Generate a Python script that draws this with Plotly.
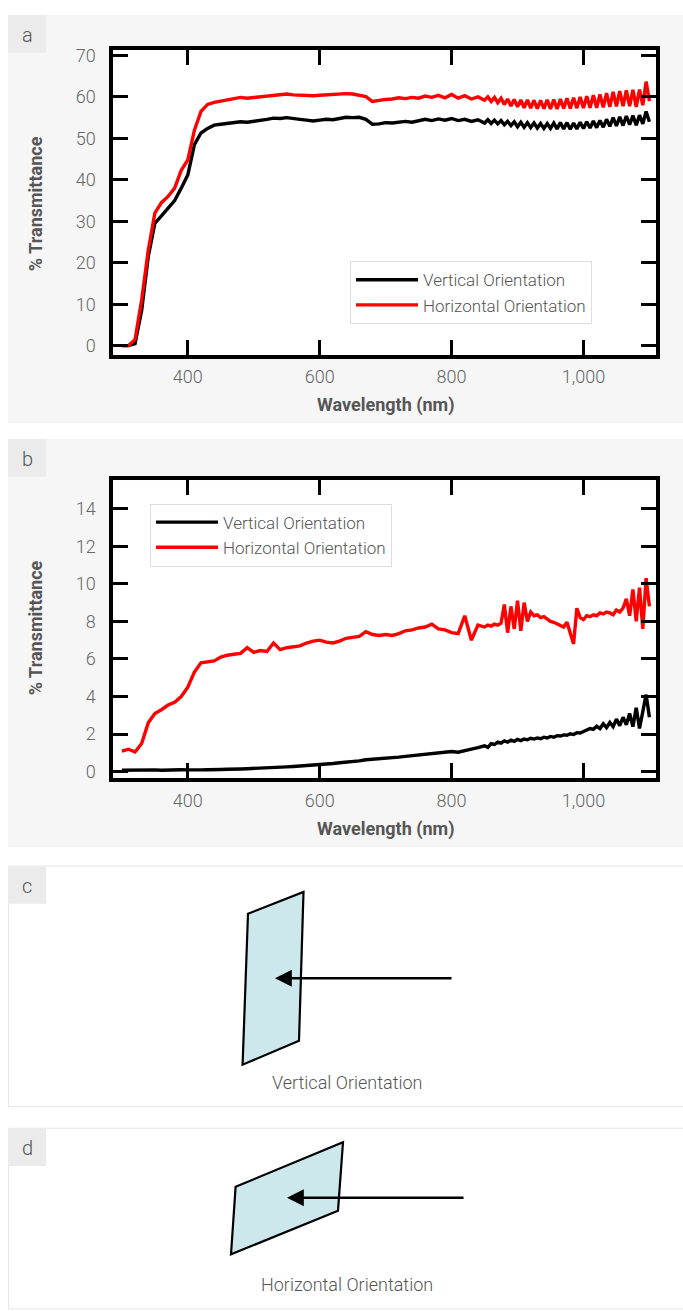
import plotly.graph_objects as go

W, H = 683, 1311

# ---------------- data ----------------
wavelength = list(range(300, 850, 10)) + list(range(850, 1101, 5))

vertical_a = [
    0, 0, 0.5, 8.5, 21.5, 29.5, 31.3, 33.0, 35.0, 38.0,
    41.2, 48.5, 51.3, 52.4, 53.2, 53.4, 53.6, 54.0, 54.0, 53.9,
    54.1, 54.4, 54.6, 54.9, 54.8, 55.0, 54.7, 54.6, 54.4, 54.2,
    54.4, 54.6, 54.5, 54.8, 55.1, 55.0, 55.1, 54.6, 53.4, 53.5,
    53.8, 53.7, 54.0, 54.1, 53.9, 54.3, 54.6, 54.3, 54.7, 54.4,
    54.8, 54.3, 54.6, 54.1, 54.5,
    53.7, 54.5, 53.6, 54.4, 53.5, 54.3, 53.3, 54.1, 53.1, 54.0,
    52.8, 53.9, 52.7, 53.8, 52.6, 53.7, 52.5, 53.6, 52.4, 53.6,
    52.4, 53.7, 52.3, 53.8, 52.3, 53.8, 52.2, 53.7, 52.3, 53.9,
    52.4, 54.0, 52.5, 54.2, 52.6, 54.3, 52.7, 54.6, 52.9, 55.0,
    53.0, 55.2, 53.1, 55.4, 53.3, 55.5, 53.2, 55.6, 53.5, 56.5,
    54.0,
]

horizontal_a = [
    0, 0, 1.5, 11.0, 23.0, 32.0, 34.5, 36.0, 38.0, 42.3,
    44.8, 52.0, 56.5, 58.2, 58.7, 59.0, 59.4, 59.8, 59.9, 59.7,
    59.9, 60.1, 60.2, 60.4, 60.6, 60.7, 60.5, 60.4, 60.5, 60.3,
    60.4, 60.5, 60.6, 60.7, 60.8, 60.7, 60.5, 60.1, 58.9, 59.2,
    59.4, 59.5, 59.8, 59.6, 59.9, 59.7, 60.2, 59.9, 60.4, 59.8,
    60.6, 59.7, 60.3, 59.5, 60.0,
    59.2, 60.0, 58.9, 59.9, 58.6, 59.7, 58.2, 59.5, 57.8, 59.4,
    57.6, 59.3, 57.4, 59.3, 57.3, 59.2, 57.2, 59.2, 57.2, 59.3,
    57.1, 59.4, 57.1, 59.5, 57.2, 59.7, 57.2, 59.8, 57.3, 60.0,
    57.3, 60.2, 57.4, 60.4, 57.4, 60.6, 57.5, 60.9, 57.6, 61.2,
    57.7, 61.4, 57.8, 61.6, 57.8, 61.7, 57.6, 61.8, 58.0, 63.7,
    59.0,
]

vertical_b = [
    0.08, 0.09, 0.08, 0.10, 0.09, 0.10, 0.08, 0.10, 0.09, 0.11,
    0.10, 0.08, 0.10, 0.11, 0.10, 0.12, 0.13, 0.12, 0.15, 0.16,
    0.17, 0.19, 0.20, 0.22, 0.23, 0.26, 0.28, 0.30, 0.33, 0.35,
    0.39, 0.42, 0.44, 0.48, 0.50, 0.53, 0.58, 0.64, 0.66, 0.68,
    0.72, 0.74, 0.78, 0.82, 0.86, 0.90, 0.93, 0.98, 1.00, 1.04,
    1.08, 1.04, 1.14, 1.20, 1.28,
    1.38, 1.30, 1.50, 1.45, 1.58, 1.52, 1.64, 1.58, 1.68, 1.62,
    1.72, 1.66, 1.74, 1.70, 1.78, 1.74, 1.80, 1.76, 1.84, 1.80,
    1.88, 1.84, 1.92, 1.90, 1.96, 1.94, 2.02, 1.98, 2.08, 2.06,
    2.14, 2.20, 2.30, 2.26, 2.42, 2.30, 2.55, 2.35, 2.62, 2.40,
    2.80, 2.45, 2.90, 2.50, 3.10, 2.40, 3.40, 2.30, 3.20, 4.10,
    2.90,
]

horizontal_b = [
    1.10, 1.20, 1.05, 1.50, 2.60, 3.10, 3.30, 3.55, 3.70, 4.00,
    4.50, 5.30, 5.80, 5.85, 5.90, 6.10, 6.20, 6.25, 6.30, 6.60,
    6.35, 6.45, 6.40, 6.85, 6.50, 6.60, 6.65, 6.70, 6.85, 6.95,
    7.00, 6.90, 6.85, 6.95, 7.10, 7.15, 7.20, 7.45, 7.30, 7.25,
    7.30, 7.25, 7.35, 7.50, 7.55, 7.65, 7.70, 7.85, 7.60, 7.55,
    7.40, 7.35, 8.30, 7.00, 7.80,
    7.70, 7.80, 7.75, 7.85, 7.80, 7.90, 8.90, 7.40, 8.80, 7.60,
    9.10, 7.50, 9.00, 8.00, 8.50, 8.30, 8.35, 8.20, 8.25, 8.10,
    8.00, 7.95, 7.85, 7.80, 7.70, 7.95, 7.30, 6.80, 8.70, 8.20,
    8.10, 8.30, 8.25, 8.35, 8.30, 8.45, 8.40, 8.50, 8.45, 8.35,
    8.60, 8.50, 8.70, 9.20, 8.30, 9.70, 8.00, 9.80, 7.60, 10.30,
    8.80,
]

x_tickvals = [400, 600, 800, 1000]
x_ticktext = ["400", "600", "800", "1,000"]
series_names = ["Vertical Orientation", "Horizontal Orientation"]
panel_labels = ["a", "b", "c", "d"]
diagram_captions = ["Vertical Orientation", "Horizontal Orientation"]
x_title = "Wavelength (nm)"
y_title = "% Transmittance"

# ---------------- helpers ----------------
def px(x):
    return x / W


def py(y):
    return 1 - y / H


TEXT = "#555555"
TICK = "#666666"
LIGHT = dict(family="Roboto", weight=300)

fig = go.Figure()

for xa, ya, v, h, leg in [("x", "y", vertical_a, horizontal_a, "legend"),
                          ("x2", "y2", vertical_b, horizontal_b, "legend2")]:
    fig.add_trace(go.Scatter(x=wavelength, y=v, mode="lines", name=series_names[0],
                             line=dict(color="black", width=3.4), xaxis=xa, yaxis=ya,
                             legend=leg))
    fig.add_trace(go.Scatter(x=wavelength, y=h, mode="lines", name=series_names[1],
                             line=dict(color="#ff0000", width=3.4), xaxis=xa, yaxis=ya,
                             legend=leg))

frame_x = (113.3, 656)
frame_a = (45, 352)
frame_b = (478.7, 778.3)

axis_common = dict(showline=True, linecolor="black", linewidth=4, mirror="ticks",
                   ticks="inside", ticklen=15, tickwidth=3, tickcolor="black",
                   showgrid=False, zeroline=False,
                   tickfont=dict(size=18, color=TICK, **LIGHT))

fig.update_layout(
    xaxis=dict(domain=[px(frame_x[0]), px(frame_x[1])], range=[287, 1110], anchor="y",
               tickvals=x_tickvals, ticktext=x_ticktext, ticklabelstandoff=3, **axis_common),
    yaxis=dict(domain=[py(frame_a[1]), py(frame_a[0])], range=[-2.15, 71.4], anchor="x",
               dtick=10, tick0=0, ticklabelstandoff=10, **axis_common),
    xaxis2=dict(domain=[px(frame_x[0]), px(frame_x[1])], range=[287, 1110], anchor="y2",
                tickvals=x_tickvals, ticktext=x_ticktext, ticklabelstandoff=3, **axis_common),
    yaxis2=dict(domain=[py(frame_b[1]), py(frame_b[0])], range=[-0.33, 15.5], anchor="x2",
                dtick=2, tick0=0, ticklabelstandoff=10, **axis_common),
)

shapes = []
shapes.append(dict(type="rect", xref="paper", yref="paper", x0=px(8), x1=px(W), y0=py(421), y1=py(10),
                   fillcolor="#f6f6f6", line=dict(width=0), layer="below"))
shapes.append(dict(type="rect", xref="paper", yref="paper", x0=px(8), x1=px(W), y0=py(848), y1=py(437),
                   fillcolor="#f6f6f6", line=dict(width=0), layer="below"))
shapes.append(dict(type="rect", xref="paper", yref="paper", x0=px(8.5), x1=px(W + 2), y0=py(1109), y1=py(867),
                   fillcolor="white", line=dict(width=1, color="#e6e6e6"), layer="below"))
shapes.append(dict(type="rect", xref="paper", yref="paper", x0=px(8.5), x1=px(W + 2), y0=py(H + 2), y1=py(1131),
                   fillcolor="white", line=dict(width=1, color="#e6e6e6"), layer="below"))
for top in (10, 437, 867, 1131):
    shapes.append(dict(type="rect", xref="paper", yref="paper", x0=px(8), x1=px(46), y0=py(top + 38), y1=py(top),
                       fillcolor="#ebebeb", line=dict(width=0), layer="below"))
for fa in (frame_a, frame_b):
    shapes.append(dict(type="rect", xref="paper", yref="paper", x0=px(frame_x[0]), x1=px(frame_x[1]),
                       y0=py(fa[1]), y1=py(fa[0]), fillcolor="white", line=dict(width=0), layer="below"))


def para(pts):
    path = "M " + " L ".join(f"{px(x)},{py(y)}" for x, y in pts) + " Z"
    return dict(type="path", xref="paper", yref="paper", path=path, fillcolor="#cde8ec",
                line=dict(color="black", width=2.2), layer="above")


shapes.append(para([(248, 915), (303.5, 893), (299, 1043), (242.6, 1067)]))
shapes.append(para([(235.6, 1190), (343, 1145), (338, 1214), (231, 1258)]))
fig.update_layout(shapes=shapes)

ann = []
for lab, top in zip(panel_labels, (10, 437, 867, 1131)):
    ann.append(dict(text=lab, xref="paper", yref="paper", x=px(27), y=py(top + 20), showarrow=False,
                    xanchor="center", yanchor="middle", font=dict(size=20, color=TEXT, **LIGHT)))
for yc in (403, 830):
    ann.append(dict(text=x_title, xref="paper", yref="paper", x=px(385), y=py(yc), showarrow=False,
                    xanchor="center", yanchor="middle",
                    font=dict(size=18, color=TEXT, family="Roboto", weight=700)))
for yc in (200, 627):
    ann.append(dict(text=y_title, xref="paper", yref="paper", x=px(35.5), y=py(yc), showarrow=False,
                    textangle=-90, xanchor="center", yanchor="middle",
                    font=dict(size=18, color=TEXT, family="Roboto", weight=700)))
for tip_x, tail_x, yy in ((275, 453, 980), (287, 465, 1201)):
    ann.append(dict(text="", xref="paper", yref="paper", x=px(tip_x), y=py(yy), ax=tail_x - tip_x, ay=0,
                    showarrow=True, arrowhead=2, arrowsize=1.4, arrowwidth=2.4, arrowcolor="black"))
for cap, yc in zip(diagram_captions, (1085, 1288)):
    ann.append(dict(text=cap, xref="paper", yref="paper", x=px(347), y=py(yc), showarrow=False,
                    xanchor="center", yanchor="middle", font=dict(size=18, color=TEXT, **LIGHT)))
fig.update_layout(annotations=ann)

legend_common = dict(bgcolor="white", bordercolor="#dedede", borderwidth=1,
                     font=dict(size=17, color=TEXT, **LIGHT), xanchor="left", yanchor="top",
                     traceorder="normal", itemwidth=62)
fig.update_layout(
    legend=dict(x=px(350), y=py(258), **legend_common),
    legend2=dict(x=px(150), y=py(502), **legend_common),
    showlegend=True,
    width=W, height=H, autosize=False,
    margin=dict(l=0, r=0, t=0, b=0),
    paper_bgcolor="white", plot_bgcolor="rgba(0,0,0,0)",
)

fig.write_html("out.html", config={"displayModeBar": False},
               post_script="document.body.style.margin='0px';document.body.style.overflow='hidden';")
